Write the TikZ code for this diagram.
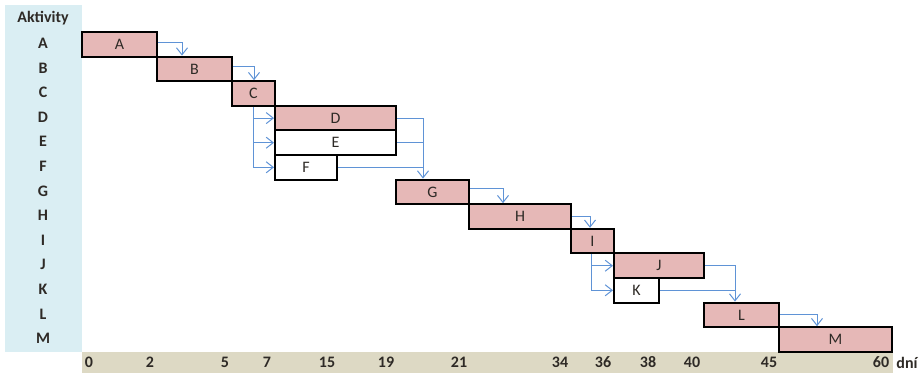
\documentclass[tikz,border=0pt]{standalone}
\usepackage{fontspec}
\setmainfont{Carlito}
\usetikzlibrary{arrows.meta}
\definecolor{panelblue}{HTML}{DAEEF3}
\definecolor{axistan}{HTML}{DDD9C4}
\definecolor{barpink}{HTML}{E6B8B7}
\definecolor{linkblue}{HTML}{5F93D6}
\definecolor{inkdark}{HTML}{2E2A26}
\tikzset{
  task/.style={draw=black, line width=2pt, inner sep=0pt, anchor=north west,
    minimum height=24.6pt, font=\fontsize{16}{16}\selectfont, text=inkdark},
  crit/.style={task, fill=barpink},
  free/.style={task, fill=white},
  flow/.style={draw=linkblue, line width=1pt,
    -{Straight Barb[length=7pt,width=11pt]}},
  link/.style={draw=linkblue, line width=1pt},
  rowlab/.style={font=\bfseries\fontsize{16}{16}\selectfont, text=inkdark},
  ticklab/.style={font=\bfseries\fontsize{16}{16}\selectfont, text=inkdark},
}
\begin{document}
\begin{tikzpicture}[x=1pt, y=-1pt]
  \useasboundingbox (0,0) rectangle (920,373);
  % background bands
  \fill[panelblue] (5,5) rectangle (82,352);
  \fill[axistan] (82,352) rectangle (893,373);

  % activity labels
  \node[rowlab] (hdr) at (43,18) {Aktivity};
  \foreach \n [count=\i from 0] in {A,B,C,D,E,F,G,H,I,J,K,L,M}
    \node[rowlab] (lab\n) at (43,{43.3+24.6*\i}) {\n};

  % task bars
  \foreach \n/\xa/\xb/\r/\s in {A/81/156/0/crit, B/156/231/1/crit, C/231/274/2/crit,
      D/274/395/3/crit, E/274/395/4/free, F/274/336/5/free, G/395/468/6/crit,
      H/468/570/7/crit, I/570/613/8/crit, J/613/703/9/crit, K/613/658/10/free,
      L/703/778/11/crit, M/778/891/12/crit}
    \node[\s, minimum width={(\xb-\xa)*1pt}] (\n) at (\xa,{31+24.6*\r}) {\n};

  % entry points of the merging links
  \coordinate (Gin) at ([xshift=28pt]G.north west);
  \coordinate (Lin) at ([xshift=32pt]L.north west);

  % dependencies
  \draw[flow] ([yshift=2pt]A.east) -| ([xshift=26pt]B.north west);
  \draw[flow] ([yshift=2pt]B.east) -| ([xshift=23pt]C.north west);
  \draw[flow] (C.south) |- (D.west);
  \draw[flow] (C.south) |- (E.west);
  \draw[flow] (C.south) |- (F.west);
  \draw[flow] (D.east) -| (Gin);
  \draw[link] (E.east) -- (E.east -| Gin);
  \draw[link] (F.east) -- (F.east -| Gin);
  \draw[flow] ([yshift=3pt]G.east) -| ([xshift=35pt]H.north west);
  \draw[flow] (H.east) -| ([xshift=20pt]I.north west);
  \draw[flow] ([xshift=-1pt]I.south) |- (J.west);
  \draw[flow] ([xshift=-1pt]I.south) |- (K.west);
  \draw[flow] (J.east) -| (Lin);
  \draw[link] (K.east) -- (K.east -| Lin);
  \draw[flow] (L.east) -| ([xshift=39pt]M.north west);

  % time axis
  \foreach \t/\x in {0/89, 2/150, 5/225, 7/267, 15/327, 19/386, 21/459,
      34/560, 36/603, 38/648, 40/692, 45/769, 60/881}
    \node[ticklab] (t\t) at (\x,362.5) {\t};
  \node[ticklab] (unit) at (907,362.5) {dní};
\end{tikzpicture}
\end{document}
